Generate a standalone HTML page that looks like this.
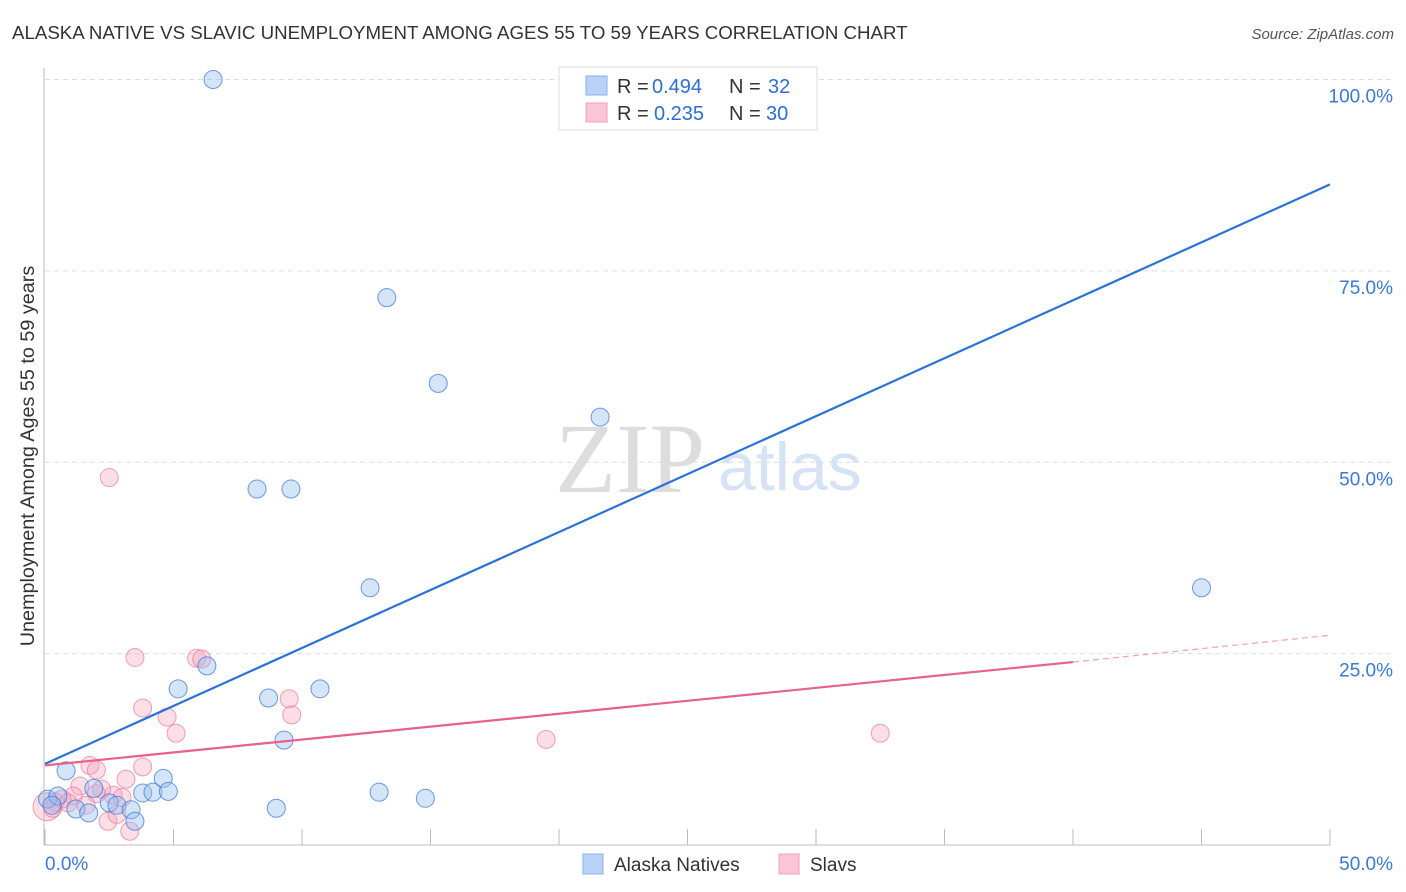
<!DOCTYPE html>
<html><head><meta charset="utf-8">
<style>
body{margin:0;background:#fff;font-family:"Liberation Sans",sans-serif;}
svg{display:block}
</style></head>
<body>
<svg id="chart" width="1406" height="892">
<text x="12" y="39" font-size="18.7" fill="#333">ALASKA NATIVE VS SLAVIC UNEMPLOYMENT AMONG AGES 55 TO 59 YEARS CORRELATION CHART</text>
<text x="1394" y="39" font-size="15" fill="#555" font-style="italic" text-anchor="end">Source: ZipAtlas.com</text>
<text x="34" y="456" font-size="19.8" fill="#333" text-anchor="middle" transform="rotate(-90 34 456)">Unemployment Among Ages 55 to 59 years</text>
<g id="grid"></g>
<g id="axes"></g>
<text x="555" y="492" font-size="100" fill="#ddd" font-family="Liberation Serif,serif">ZIP</text>
<text x="718" y="490" font-size="68" fill="#d5e3f5">atlas</text>
<g id="marks"></g>
<g>
<rect x="559" y="67" width="258" height="63" fill="#fff" stroke="#ddd"/>
<rect x="586" y="76" width="21" height="19" fill="#b8d3f5" stroke="#8ab2e8"/>
<rect x="586" y="103" width="21" height="19" fill="#f9c6d5" stroke="#f0a0b8"/>
<text x="617" y="93" font-size="20" fill="#333">R = <tspan x="652" fill="#2d6fd0">0.494</tspan><tspan x="729">N = </tspan><tspan x="768" fill="#2d6fd0">32</tspan></text>
<text x="617" y="120" font-size="20" fill="#333">R = <tspan x="654" fill="#2d6fd0">0.235</tspan><tspan x="729">N = </tspan><tspan x="766" fill="#2d6fd0">30</tspan></text>
</g>
<g>
<rect x="583" y="854" width="20" height="20" fill="#b8d3f5" stroke="#8ab2e8"/>
<text x="614" y="871" font-size="19" fill="#333">Alaska Natives</text>
<rect x="779" y="854" width="20" height="20" fill="#f9c6d5" stroke="#f0a0b8"/>
<text x="810" y="871" font-size="19" fill="#333">Slavs</text>
</g>
</svg>
<script>
const xTicks=[0,5,10,15,20,25,30,35,40,45,50];
const yTicks=[25,50,75,100];
const yTickLabels=["25.0%","50.0%","75.0%","100.0%"];
const blueX=[6.54,13.3,15.3,21.6,8.25,9.57,12.65,45.0,6.3,5.18,10.7,8.7,9.3,0.82,4.6,3.8,4.2,4.8,1.9,13.0,14.8,9.0,0.1,0.5,1.2,1.7,2.5,2.8,3.35,3.5,0.27,24.8];
const blueY=[100,71.5,60.3,55.9,46.5,46.5,33.6,33.6,23.4,20.4,20.4,19.2,13.7,9.7,8.7,6.8,6.9,7.0,7.4,6.9,6.1,4.8,6.0,6.4,4.7,4.2,5.5,5.2,4.6,3.1,5.2,100];
const pinkX=[2.5,3.5,5.9,6.1,9.5,9.6,3.8,4.75,5.1,19.5,32.5,1.75,2.0,3.8,3.15,1.36,2.0,2.65,1.1,0.66,0.4,0.08,2.45,3.3,2.8,1.6,0.9,2.2,3.0,0.3];
const pinkY=[48.0,24.5,24.4,24.3,19.1,17.0,17.9,16.7,14.6,13.8,14.6,10.4,9.8,10.2,8.6,7.7,6.7,6.5,6.4,6.0,5.6,5.0,3.1,1.8,4.0,5.2,5.5,7.3,6.2,4.8];
const blueLine=[[0,10.6],[50,86.3]];
const pinkLine=[[0,10.4],[40,23.9]];
const pinkDash=[[40,23.9],[50,27.4]];
const NS="http://www.w3.org/2000/svg";
const sx=v=>45+v/50*1285;
const sy=v=>845-v*7.655;
function mk(t,a,p){const e=document.createElementNS(NS,t);for(const k in a)e.setAttribute(k,a[k]);p.appendChild(e);return e;}
const grid=document.getElementById('grid'),axes=document.getElementById('axes'),marks=document.getElementById('marks');
yTicks.forEach((v,i)=>{
 const l=mk('line',{x1:45,x2:1392,y1:sy(v),y2:sy(v),stroke:'#ddd','stroke-dasharray':'5,4'},grid);
 
 
 const t=mk('text',{x:1393,y:sy(v)+23,'font-size':19,fill:'#3b78d8','text-anchor':'end'},axes);
 t.textContent=yTickLabels[i];
 
 
});
mk('line',{x1:44,x2:44,y1:68,y2:845,stroke:'#bbb'},axes);
mk('line',{x1:44,x2:1330,y1:845,y2:845,stroke:'#bbb'},axes);
xTicks.forEach(v=>{
 const l=mk('line',{x1:sx(v),x2:sx(v),y1:829,y2:845,stroke:'#bbb'},axes);
 
 
});
const xl0=mk('text',{x:45,y:870,'font-size':19,fill:'#3b78d8'},axes);xl0.textContent='0.0%';


const xl1=mk('text',{x:1393,y:870,'font-size':19,fill:'#3b78d8','text-anchor':'end'},axes);xl1.textContent='50.0%';


pinkX.forEach((v,i)=>{
 const c=mk('circle',{cx:sx(v),cy:sy(pinkY[i]),r:i==21?14:9,fill:'rgba(246,160,185,0.35)',stroke:'rgba(236,120,155,0.7)','stroke-width':1},marks);
 
 
});
blueX.forEach((v,i)=>{
 const c=mk('circle',{cx:sx(v),cy:sy(blueY[i]),r:9,fill:'rgba(150,190,240,0.4)',stroke:'rgba(60,120,215,0.75)','stroke-width':1},marks);
 
 
});
const bl=mk('line',{x1:sx(blueLine[0][0]),y1:sy(blueLine[0][1]),x2:sx(blueLine[1][0]),y2:sy(blueLine[1][1]),stroke:'#2a72d8','stroke-width':2.2},marks);


const pl=mk('line',{x1:sx(pinkLine[0][0]),y1:sy(pinkLine[0][1]),x2:sx(pinkLine[1][0]),y2:sy(pinkLine[1][1]),stroke:'#e8608e','stroke-width':2.2},marks);


const pd=mk('line',{x1:sx(pinkDash[0][0]),y1:sy(pinkDash[0][1]),x2:sx(pinkDash[1][0]),y2:sy(pinkDash[1][1]),stroke:'#f0a0b8','stroke-width':1.2,'stroke-dasharray':'6,4'},marks);


</script>
</body></html>
